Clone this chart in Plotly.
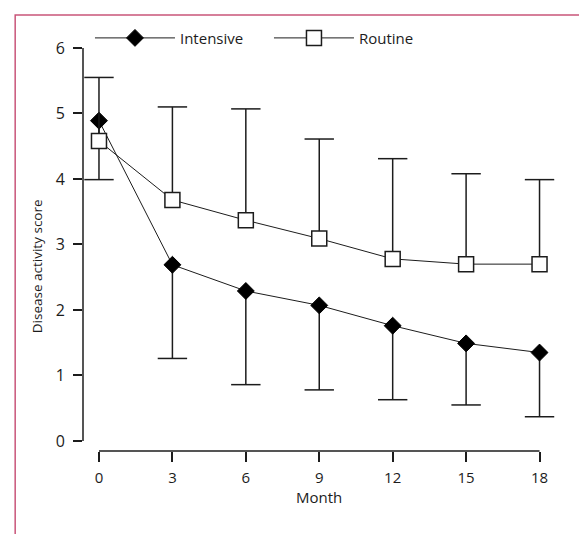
import plotly.graph_objects as go

months = [0, 3, 6, 9, 12, 15, 18]
intensive = [4.89, 2.69, 2.29, 2.07, 1.76, 1.49, 1.35]
intensive_err_down = [0.90, 1.43, 1.43, 1.29, 1.13, 0.94, 0.98]
routine = [4.58, 3.68, 3.37, 3.09, 2.78, 2.70, 2.70]
routine_err_up = [0.97, 1.42, 1.70, 1.52, 1.53, 1.38, 1.29]
y_ticks = [0, 1, 2, 3, 4, 5, 6]

INK = "#1c1c1c"
FONT = "Open Sans"

fig = go.Figure()

# whisker caps (ends of the SD bars)
fig.add_trace(go.Scatter(
    x=months, y=[v - e for v, e in zip(intensive, intensive_err_down)],
    mode="markers", showlegend=False, hoverinfo="skip", cliponaxis=False,
    marker=dict(symbol="line-ew", size=21, line=dict(width=1.5, color=INK), color=INK),
))
fig.add_trace(go.Scatter(
    x=months, y=[v + e for v, e in zip(routine, routine_err_up)],
    mode="markers", showlegend=False, hoverinfo="skip", cliponaxis=False,
    marker=dict(symbol="line-ew", size=21, line=dict(width=1.5, color=INK), color=INK),
))

fig.add_trace(go.Scatter(
    x=months, y=intensive, name="Intensive", mode="lines+markers", cliponaxis=False,
    line=dict(color=INK, width=1),
    marker=dict(symbol="diamond", size=13, color="black", line=dict(width=1, color="black")),
    error_y=dict(type="data", symmetric=False, array=[0] * len(months),
                 arrayminus=intensive_err_down, width=0, thickness=1.5, color=INK),
))
fig.add_trace(go.Scatter(
    x=months, y=routine, name="Routine", mode="lines+markers", cliponaxis=False,
    line=dict(color=INK, width=1),
    marker=dict(symbol="square", size=15, color="white", line=dict(width=1.5, color=INK)),
    error_y=dict(type="data", symmetric=False, array=routine_err_up,
                 arrayminus=[0] * len(months), width=0, thickness=1.5, color=INK),
))

# detached axis lines
fig.add_shape(type="line", xref="paper", yref="y", x0=0, x1=0, y0=0, y1=6,
              line=dict(color=INK, width=1.5))
fig.add_shape(type="line", xref="x", yref="paper", x0=0, x1=18, y0=0, y1=0,
              line=dict(color=INK, width=1.5))
# pink frame (open at the bottom)
fig.add_shape(type="rect", xref="paper", yref="paper", x0=-0.141, x1=1.046,
              y0=-0.25, y1=1.0307, line=dict(color="#c9557a", width=1.5),
              fillcolor="rgba(0,0,0,0)", layer="below")

fig.add_annotation(text="Disease activity score", textangle=-90, xref="paper", yref="paper",
                   x=-0.0955, y=0.437, showarrow=False, xanchor="center", yanchor="middle",
                   font=dict(family=FONT, size=13.5, color=INK))
fig.add_annotation(text="Month", xref="x", yref="paper", x=9, y=-0.109,
                   showarrow=False, xanchor="center", yanchor="middle",
                   font=dict(family=FONT, size=15, color=INK))

fig.update_xaxes(range=[-0.653, 19], tickvals=months, ticks="outside", ticklen=10,
                 tickwidth=1.5, tickcolor=INK, showline=False, showgrid=False,
                 zeroline=False, ticklabelstandoff=3,
                 tickfont=dict(family=FONT, size=15, color=INK))
fig.update_yaxes(range=[-0.153, 6.305], tickvals=y_ticks, ticks="outside", ticklen=9,
                 tickwidth=1.5, tickcolor=INK, showline=False, showgrid=False,
                 zeroline=False, ticklabelstandoff=5,
                 tickfont=dict(family=FONT, size=16, color=INK))

fig.update_layout(
    width=579, height=526,
    margin=dict(l=75, r=22.5, t=20, b=83),
    plot_bgcolor="white", paper_bgcolor="white",
    font=dict(family=FONT, color=INK),
    legend=dict(orientation="h", x=0.0145, y=0.976, xanchor="left", yanchor="middle",
                bgcolor="rgba(0,0,0,0)", font=dict(family=FONT, size=15, color=INK),
                itemwidth=80, entrywidth=84, tracegroupgap=0),
)

fig.write_html("out.html")
